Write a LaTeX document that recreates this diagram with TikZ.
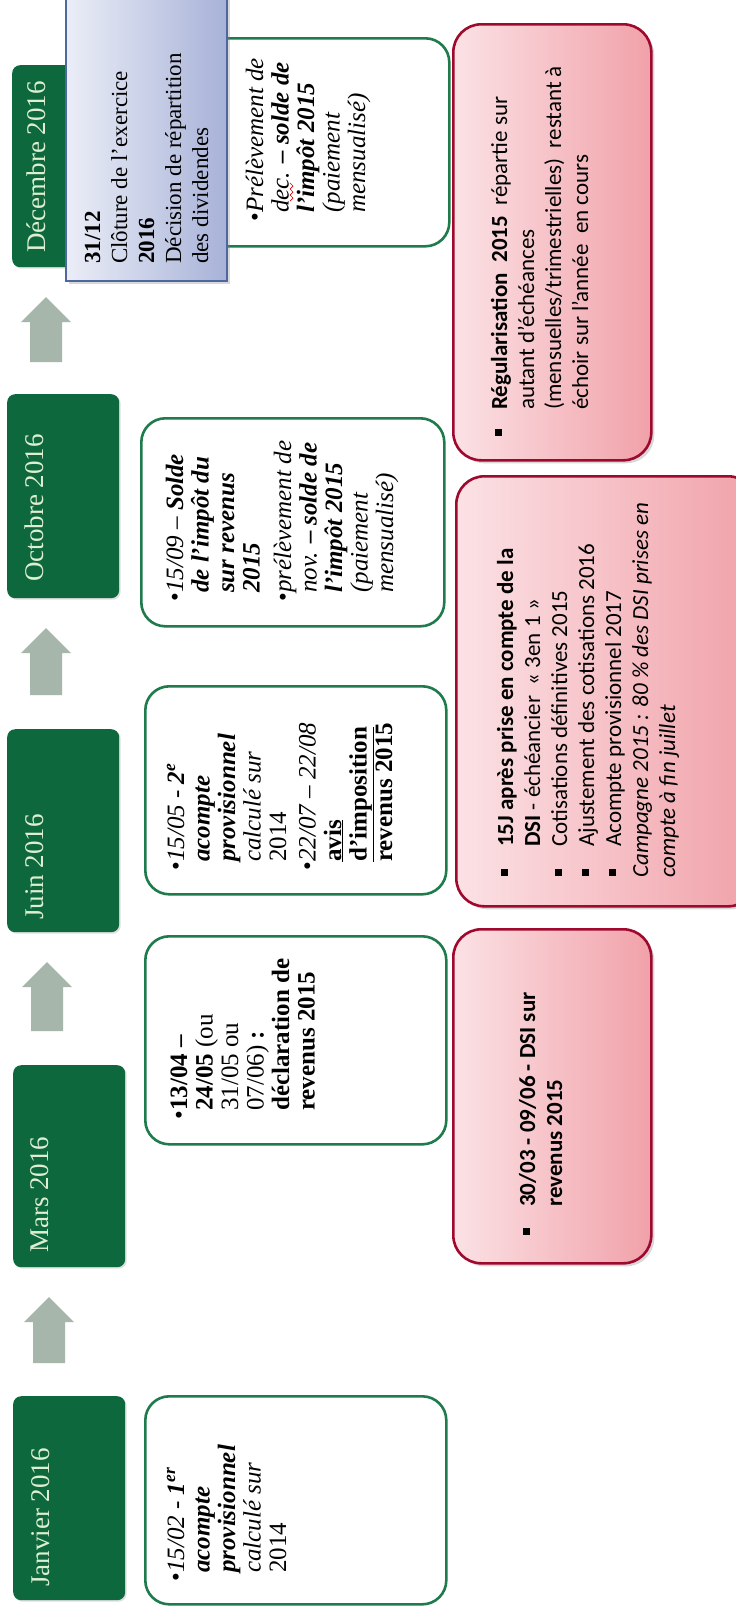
\documentclass[tikz,border=0pt]{standalone}
\usepackage{fontspec}
\setmainfont{Liberation Serif}
\newfontfamily\pinkfont{Carlito}
\usetikzlibrary{shadows}
\definecolor{monthgreen}{HTML}{0E683E}
\definecolor{monthtext}{HTML}{DDEFD0}
\definecolor{boxgreen}{HTML}{1F7A4C}
\definecolor{arrowgray}{HTML}{A7B6AB}
\definecolor{pinkL}{HTML}{FBE2E5}
\definecolor{pinkR}{HTML}{F1A1A9}
\definecolor{pinkB}{HTML}{A0092E}
\definecolor{blueL}{HTML}{EBEEF7}
\definecolor{blueR}{HTML}{A8B2D8}
\definecolor{blueB}{HTML}{4E679F}
\newcommand\bul{\makebox[0.36em][l]{•}}
\newcommand\ind{\hspace*{0.36em}}
\newcommand\sqb[1]{\makebox[#1][l]{\hspace{1.5pt}\rule[5.5pt]{7pt}{7pt}}}
\begin{document}
\begin{tikzpicture}[x=1pt,y=-1pt,
  monthbox/.style={draw=none, fill=monthgreen, rounded corners=8pt, anchor=north west, inner sep=0pt,
    drop shadow={opacity=0.25, shadow xshift=1.5pt, shadow yshift=-1.5pt}},
  monthlabel/.style={rotate=90, anchor=base west, inner sep=0pt, text=monthtext, font=\fontsize{27}{30}\selectfont},
  infobox/.style={draw=boxgreen, line width=2.6pt, fill=white, rounded corners=24pt, anchor=north west, inner sep=0pt},
  infotext/.style={rotate=90, anchor=north west, inner sep=0pt, align=left, font=\fontsize{25}{25.5}\selectfont},
  pinkbox/.style={draw=pinkB, line width=2.6pt, left color=pinkL, right color=pinkR, rounded corners=28pt,
    anchor=north west, inner sep=0pt, drop shadow={opacity=0.3, shadow xshift=3pt, shadow yshift=-3pt}},
  pinktext/.style={rotate=90, anchor=north west, inner sep=0pt, align=left, font=\pinkfont\fontsize{23}{27}\selectfont},
  bluebox/.style={draw=blueB, line width=1.6pt, left color=blueL, right color=blueR, anchor=north west, inner sep=0pt,
    drop shadow={opacity=0.3, shadow xshift=3pt, shadow yshift=-3pt}},
  bluetext/.style={rotate=90, anchor=north west, inner sep=0pt, align=left, font=\fontsize{23}{27}\selectfont},
  uparrow/.style={fill=arrowgray, draw=none}
]
\useasboundingbox (0,0) rectangle (736,1609);
\fill[white] (0,0) rectangle (736,1609);
\clip (0,0) rectangle (736,1609);

% block arrows
\foreach \cx/\t/\b in {46/297/362, 46/628/695, 47/962/1031, 49/1297/1363}
  \fill[uparrow] (\cx,\t) -- (\cx+25,\t+25) -- (\cx+16,\t+25) -- (\cx+16,\b)
     -- (\cx-16,\b) -- (\cx-16,\t+25) -- (\cx-25,\t+25) -- cycle;

% month boxes
\node[monthbox, minimum width=113pt, minimum height=202pt] (decM) at (12,65) {};
\node[monthbox, minimum width=112pt, minimum height=204pt] (octM) at (7,394) {};
\node[monthbox, minimum width=112pt, minimum height=203pt] (juinM) at (7,729) {};
\node[monthbox, minimum width=112pt, minimum height=202pt] (marsM) at (13,1065) {};
\node[monthbox, minimum width=112pt, minimum height=204pt] (janM) at (13,1396) {};

\node[monthlabel] (decL) at (45,253) {Décembre 2016};
\node[monthlabel] (octL) at (43,582) {Octobre 2016};
\node[monthlabel] (juinL) at (43,920) {Juin 2016};
\node[monthlabel] (marsL) at (48,1253) {Mars 2016};
\node[monthlabel] (janL) at (49,1587) {Janvier 2016};

% white info boxes
\node[infobox, minimum width=298pt, minimum height=208pt] (decW) at (150,37) {};
\node[infobox, minimum width=303pt, minimum height=208pt] (octW) at (140,417) {};
\node[infobox, minimum width=301pt, minimum height=208pt] (juinW) at (144,685) {};
\node[infobox, minimum width=301pt, minimum height=208pt] (marsW) at (144,935) {};
\node[infobox, minimum width=301pt, minimum height=208pt] (janW) at (144,1395) {};

\node[infotext] (decT) at (245,222) {\strut\bul\textit{Prélèvement de}\\
  \ind\textit{dec.} \textbf{\textit{– solde de}}\\
  \ind\textbf{\textit{l’impôt 2015}}\\
  \ind\textit{(paiement}\\
  \ind\textit{mensualisé)}};
\draw[red!85!black, line width=0.7pt] (290,201) -- (293,198) -- (290,195) -- (293,192) -- (290,189) -- (293,186) -- (290,183);

\node[infotext] (octT) at (165,602) {\strut\bul\textit{15/09 – \textbf{Solde}}\\
  \ind\textbf{\textit{de l’impôt du}}\\
  \ind\textbf{\textit{sur revenus}}\\
  \ind\textbf{\textit{2015}}\\[6pt]
  \bul\textit{prélèvement de}\\
  \ind\textit{nov.} \textbf{\textit{– solde de}}\\
  \ind\textbf{\textit{l’impôt 2015}}\\
  \ind\textit{(paiement}\\
  \ind\textit{mensualisé)}};

\node[infotext] (juinT) at (166,871) {\strut\bul\textit{15/05 - \textbf{2\textsuperscript{e}}}\\
  \ind\textbf{\textit{acompte}}\\
  \ind\textbf{\textit{provisionnel}}\\
  \ind\textit{calculé sur}\\
  \ind 2014\\[4pt]
  \bul\textit{22/07 – 22/08}\\
  \ind\textbf{\underline{avis}}\\
  \ind\textbf{\underline{d’imposition}}\\
  \ind\textbf{revenus 2015}};

\node[infotext] (marsT) at (169,1120) {\strut\bul\textbf{13/04 –}\\
  \ind\textbf{24/05} (ou\\
  \ind 31/05 ou\\
  \ind 07/06) \textbf{:}\\
  \ind\textbf{déclaration de}\\
  \ind\textbf{revenus 2015}};

\node[infotext] (janT) at (166,1582) {\strut\bul\textit{15/02 - \textbf{1\textsuperscript{er}}}\\
  \ind\textbf{\textit{acompte}}\\
  \ind\textbf{\textit{provisionnel}}\\
  \ind\textit{calculé sur}\\
  \ind 2014};

% blue box (on top of December)
\node[bluebox, minimum width=161pt, minimum height=284pt] (blue) at (65,-4) {};
\node[bluetext] (blueT) at (81,264) {\strut\textbf{31/12}\\
  Clôture de l’exercice\\
  \textbf{2016}\\
  Décision de répartition\\
  des dividendes};

% pink boxes
\node[pinkbox, minimum width=198pt, minimum height=436pt] (regP) at (452,23) {};
\node[pinktext] (regT) at (488,438) {\strut\sqb{28pt}\textbf{Régularisation~~2015}~~répartie sur\\
  \hspace*{28pt}autant d’échéances\\
  \hspace*{28pt}(mensuelles/trimestrielles)~~restant à\\
  \hspace*{28pt}échoir sur l’année~~en cours};

\node[pinkbox, minimum width=300pt, minimum height=430pt] (dsiP) at (455,475) {};
\node[pinktext] (dsiT) at (494,878) {\strut\sqb{31pt}\textbf{15J après prise en compte de la}\\
  \hspace*{31pt}\textbf{DSI} - échéancier~ « 3en 1 »\\
  \sqb{31pt}Cotisations définitives 2015\\
  \sqb{31pt}Ajustement des cotisations 2016\\
  \sqb{31pt}Acompte provisionnel 2017\\
  \textit{Campagne 2015 : 80 \% des DSI prises en}\\
  \textit{compte à fin juillet}};

\node[pinkbox, minimum width=198pt, minimum height=334pt] (revP) at (452,928) {};
\node[pinktext] (revT) at (516,1237) {\strut\sqb{30pt}\textbf{30/03 - 09/06 - DSI sur}\\
  \hspace*{30pt}\textbf{revenus 2015}};
\end{tikzpicture}
\end{document}
